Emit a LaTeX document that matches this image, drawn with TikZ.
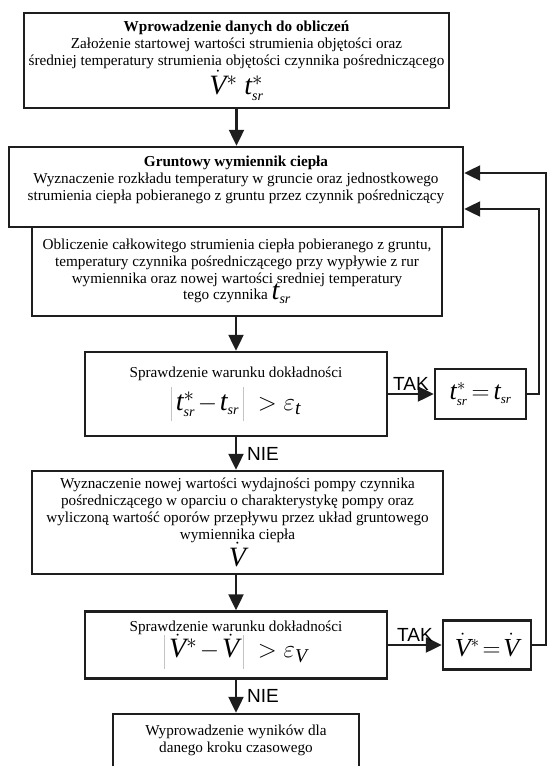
\documentclass[tikz,border=0pt]{standalone}
\usepackage{fontspec}
\setmainfont{Liberation Serif}
\newfontfamily\sansfont{Liberation Sans}
\usepackage{xcolor}
\definecolor{LineBlack}{RGB}{30,30,30}
\definecolor{BarGray}{RGB}{195,195,195}
\usetikzlibrary{arrows.meta, positioning}

\newcommand{\Vdot}{\dot{\mathit{V}}}
\newcommand{\tsr}{\mathit{t}_{\scriptscriptstyle\mathit{sr}}}
\newcommand{\tsrgw}{\mathit{t}^{*}_{\scriptscriptstyle\mathit{sr}}}
\newcommand{\wzor}[1]{{\fontsize{28}{30}\selectfont$#1$}}
\newcommand{\wzorek}[1]{{\fontsize{26}{28}\selectfont$#1$}}
\newcommand{\absbar}{\mbox{\color{BarGray}\rule[-11pt]{0.7pt}{34pt}}}

\begin{document}
\begin{tikzpicture}[
  x=1pt, y=-1pt,
  font=\fontsize{15.2}{17}\selectfont,
  block/.style={
    draw=LineBlack, line width=2.4pt,
    inner sep=0pt, align=center
  },
  result/.style={block},
  flow/.style={draw=LineBlack, line width=2.2pt, -{Triangle[length=16pt,width=15pt]}},
  answer/.style={font=\sansfont\fontsize{19}{19}\selectfont, inner sep=2pt}
]
\clip (0,0) rectangle (550,766);

% Bloki glowne
\node[block, minimum width=425pt, minimum height=95pt] (dane) at (236.5,60.5)
{\textbf{Wprowadzenie danych do obliczeń}\\
Założenie startowej wartości strumienia objętości oraz\\
średniej temperatury strumienia objętości czynnika pośredniczącego\\[1pt]
\wzor{\Vdot^{*}\;\tsrgw}};

\node[block, minimum width=454pt, minimum height=80pt] (grunt) at (236,187)
{\textbf{Gruntowy wymiennik ciepła}\\
Wyznaczenie rozkładu temperatury w gruncie oraz jednostkowego\\
strumienia ciepła pobieranego z gruntu przez czynnik pośredniczący\\
\mbox{}};

\node[block, minimum width=410pt, minimum height=89pt] (calk) at (237,271.5)
{Obliczenie całkowitego strumienia ciepła pobieranego z gruntu,\\
temperatury czynnika pośredniczącego przy wypływie z rur\\
wymiennika oraz nowej wartości sredniej temperatury\\[-4pt]
tego czynnika \wzor{\tsr}};

\node[block, minimum width=302pt, minimum height=84pt] (spr1) at (236,394)
{Sprawdzenie warunku dokładności\\[6pt]
\wzor{\absbar\,\tsrgw\mkern-2mu-\mkern-2mu\tsr\,\absbar\;>\varepsilon_{\mathit{t}}}};

\node[block, minimum width=411pt, minimum height=103pt] (pompa) at (237.5,522.5)
{Wyznaczenie nowej wartości wydajności pompy czynnika\\
pośredniczącego w oparciu o charakterystykę pompy oraz\\
wyliczoną wartość oporów przepływu przez układ gruntowego\\
wymiennika ciepła\\[-2pt]
\wzor{\Vdot}};

\node[block, minimum width=302pt, minimum height=67pt] (spr2) at (236,645)
{Sprawdzenie warunku dokładności\\[-2pt]
\wzor{\absbar\,\Vdot^{*}\mkern-2mu-\mkern-2mu\Vdot\,\absbar\;>\varepsilon_{\mathit{V}}}};

\node[block, minimum width=246pt, minimum height=66pt] (wynik) at (236,747)
{Wyprowadzenie wyników dla\\
danego kroku czasowego\\
\mbox{}};

% Bloki TAK
\node[result, minimum width=91pt, minimum height=50pt] (rowne1) at (480.5,394)
{\wzorek{\tsrgw\mkern-2mu=\mkern-2mu\tsr}};
\node[result, minimum width=88pt, minimum height=49pt] (rowne2) at (487,645)
{\wzorek{\Vdot^{*}\mkern-3mu=\mkern-3mu\Vdot}};

% Strzalki
\draw[flow] (dane.south) -- (dane.south |- grunt.north);
\draw[flow] (spr1.north |- calk.south) -- (spr1.north);
\draw[flow] (spr1.south) -- (spr1.south |- pompa.north) node[answer, midway, right, xshift=8pt] {NIE};
\draw[flow] (spr2.north |- pompa.south) -- (spr2.north);
\draw[flow] (spr2.south) -- (spr2.south |- wynik.north) node[answer, midway, right, xshift=8pt] {NIE};
\draw[flow] (spr1.east) -- (rowne1.west) node[answer, midway, above] {TAK};
\draw[flow] (spr2.east) -- (rowne2.west) node[answer, midway, above] {TAK};

% Petle powrotne
\coordinate (wej1) at ([yshift=14pt]grunt.east);
\coordinate (wej2) at ([yshift=-22pt]grunt.east);
\coordinate (prawa) at (546,0);
\draw[flow] (rowne1.east) -- ++(12,0) |- (wej2);
\draw[flow] (rowne2.east) -- (rowne2.east -| prawa) |- (wej1);
\end{tikzpicture}
\end{document}
